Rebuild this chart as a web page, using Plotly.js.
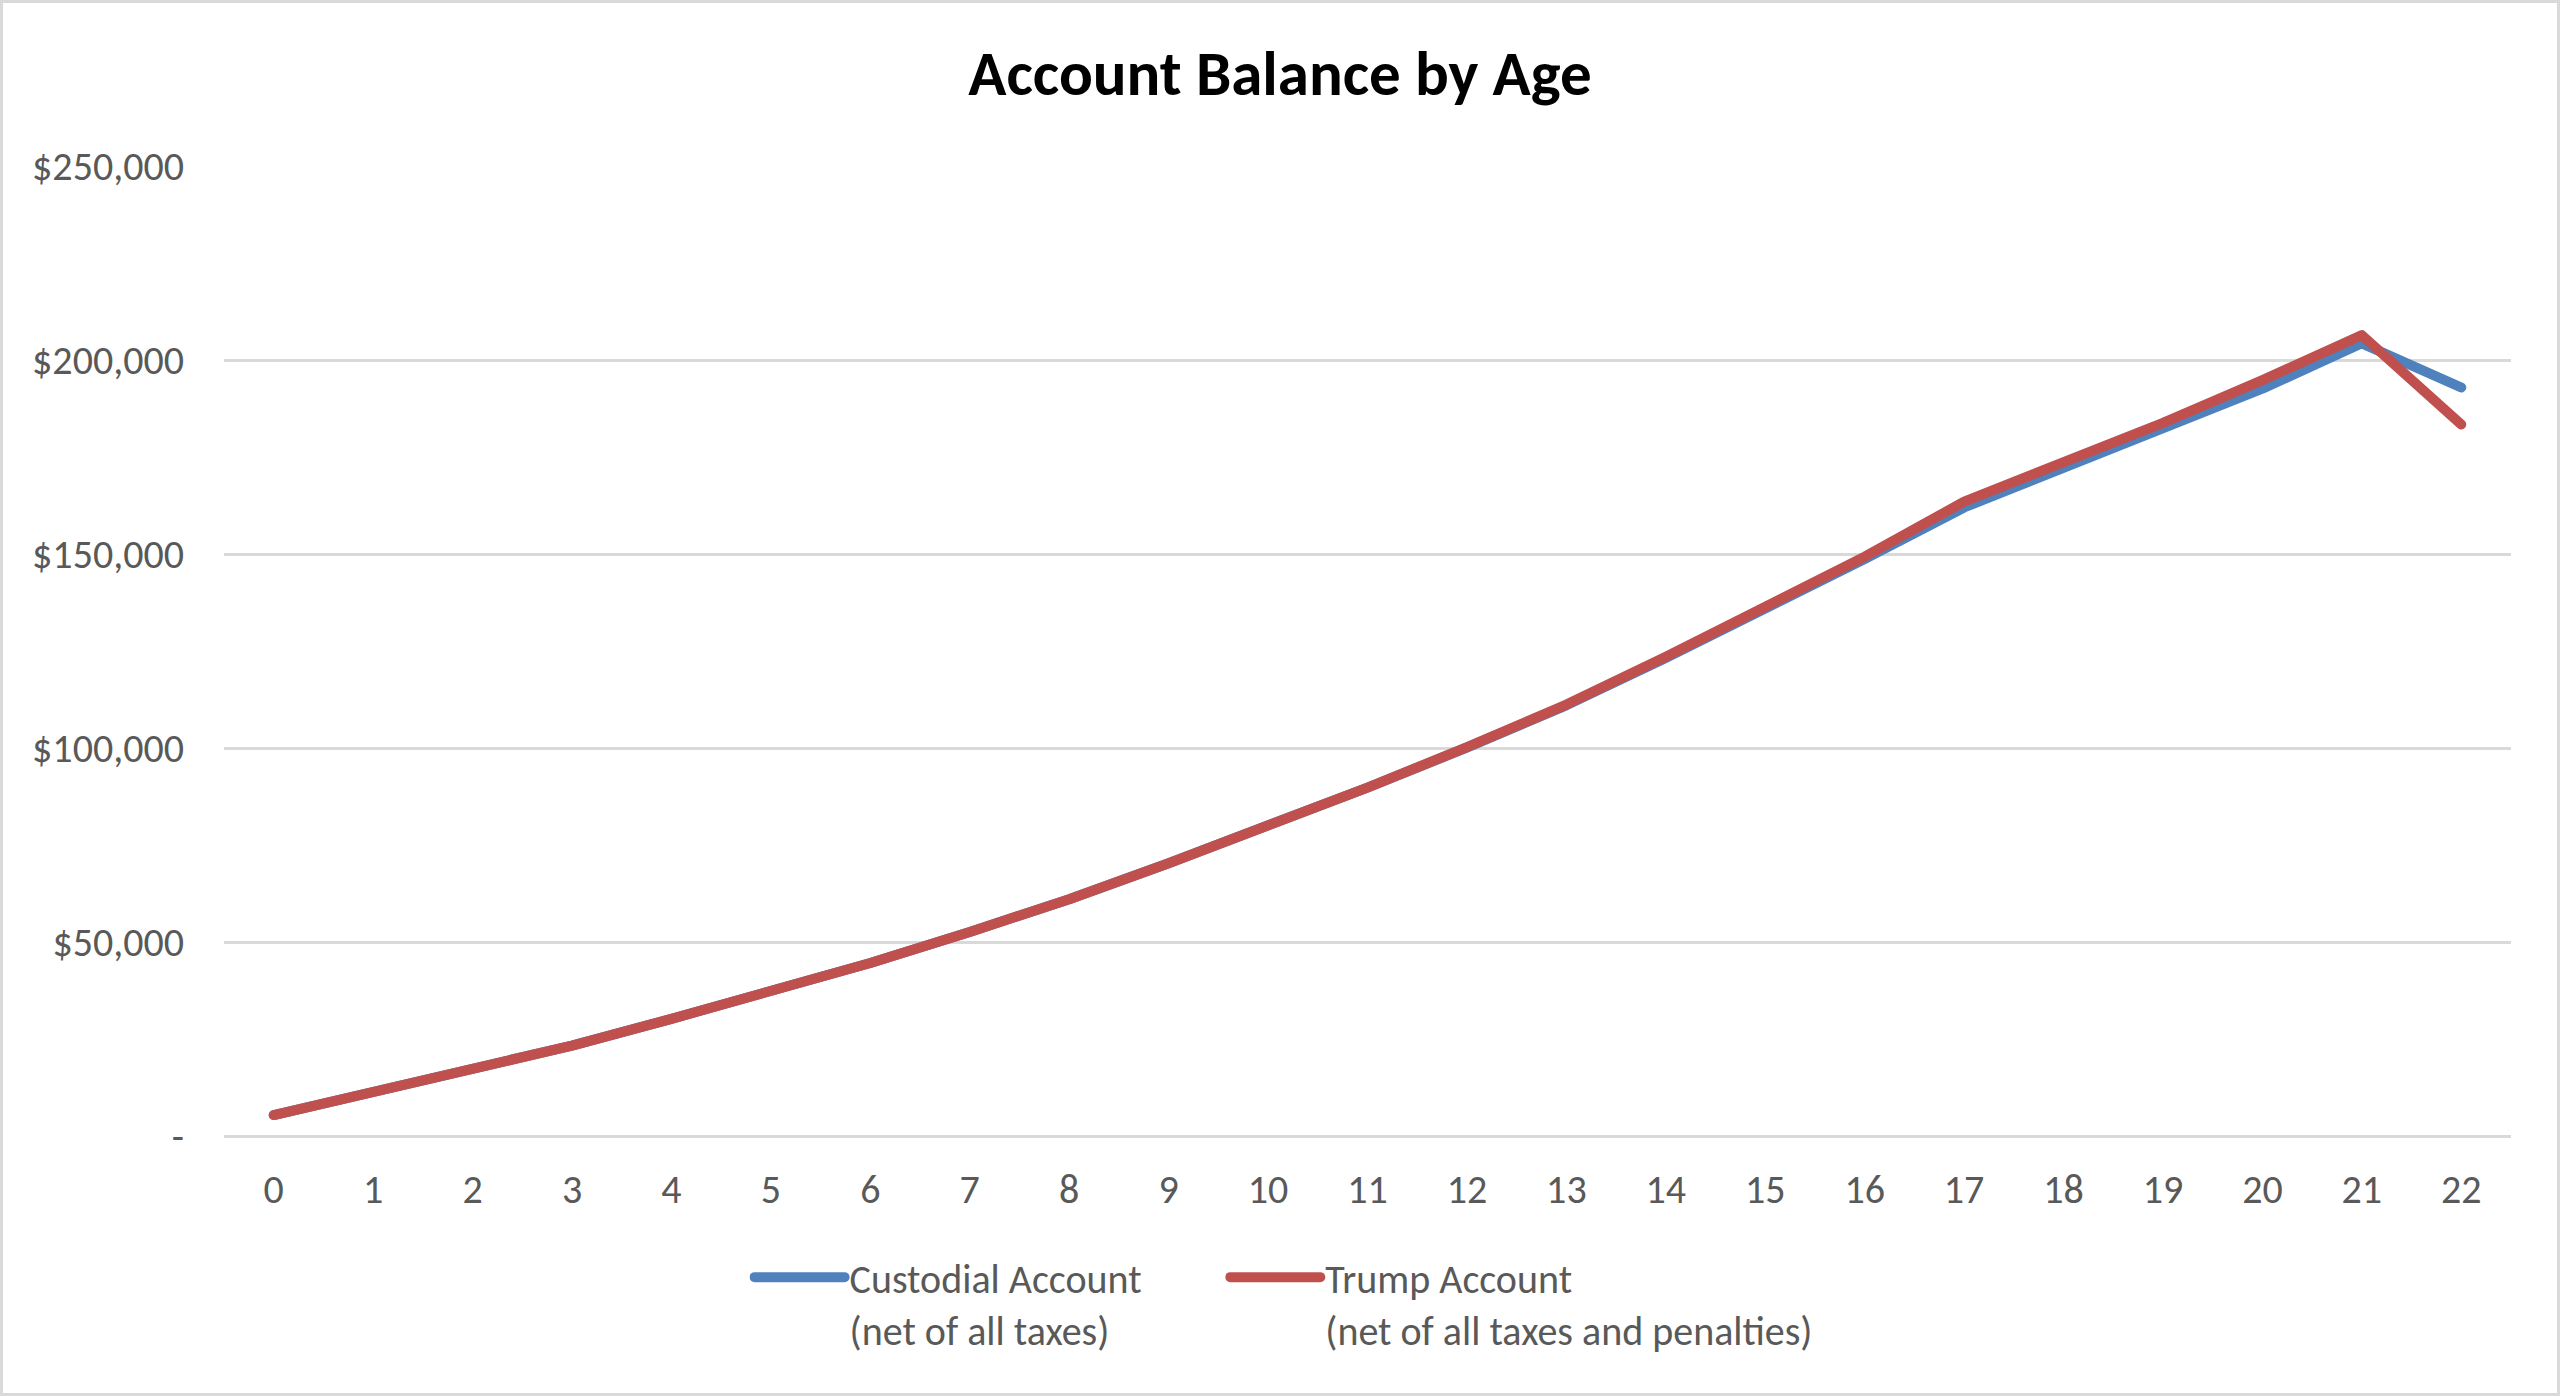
<!DOCTYPE html>
<html>
<head>
<meta charset="utf-8">
<script src="https://cdn.plot.ly/plotly-3.0.1.min.js"></script>
<style>
  body { margin: 0; background: #ffffff; }
  #frame { width: 2560px; height: 1396px; box-sizing: border-box; border: 3px solid #d9d9d9; }
  #chart { width: 2554px; height: 1390px; }
  path.js-line { stroke-linecap: round; stroke-linejoin: round; }
</style>
</head>
<body>
<div id="frame"><div id="chart"></div></div>
<script>
// ages on the x axis
var ages = [0, 1, 2, 3, 4, 5, 6, 7, 8, 9, 10, 11, 12, 13, 14, 15, 16, 17, 18, 19, 20, 21, 22];

// balances
var custodialBalance = [5400, 11200, 17100, 23300, 30200, 37200, 44600, 52600, 61000, 70300,
    80000, 89800, 100100, 111000, 123200, 135600, 148700, 162000, 172300, 182000,
    192600, 204300, 192900];
var trumpBalance = [5400, 11200, 17100, 23300, 30200, 37200, 44600, 52600, 61000, 70300,
    80000, 89800, 100200, 111200, 123500, 136100, 149300, 163500, 173800, 183800,
    194800, 206400, 183400];

var custodialName = "Custodial Account<br>(net of all taxes)";
var trumpName = "Trump Account<br>(net of all taxes and penalties)";

var yTickVals = [0, 50000, 100000, 150000, 200000, 250000];
var yTickText = ["-", "$50,000", "$100,000", "$150,000", "$200,000", "$250,000"];

var fontFamily = "Calibri, Carlito, Lato, sans-serif";
var textSize = 40;

var custodial = {
    x: ages,
    y: custodialBalance,
    name: custodialName,
    type: 'scatter',
    mode: 'lines',
    line: {color: '#4f81bd', width: 10},
    legend: 'legend'
};

var trump = {
    x: ages,
    y: trumpBalance,
    name: trumpName,
    type: 'scatter',
    mode: 'lines',
    line: {color: '#c0504d', width: 10},
    legend: 'legend2'
};

// one legend per series, so each entry can sit where the original puts it
function legendAt(xpos){
    return {
        orientation: 'h',
        x: xpos,
        xanchor: 'left',
        y: -0.112,
        yanchor: 'top',
        valign: 'top',
        itemwidth: 90,
        font: {family: fontFamily, size: textSize, color: '#595959'},
        bgcolor: 'rgba(0,0,0,0)'
    };
}

var layout = {
    width: 2554,
    height: 1390,
    paper_bgcolor: '#ffffff',
    plot_bgcolor: '#ffffff',
    font: {family: fontFamily, size: textSize, color: '#595959'},
    margin: {l: 221, r: 46, t: 163, b: 257, pad: 0},
    title: {
        text: "<b>Account Balance by Age</b>",
        font: {family: fontFamily, size: 63, color: '#000000'},
        xref: 'container',
        x: 0.5,
        xanchor: 'center',
        yref: 'container',
        y: 0.95,
        yanchor: 'middle'
    },
    xaxis: {
        range: [-0.5, 22.5],
        tickvals: ages,
        showgrid: false,
        zeroline: false,
        showline: false,
        ticks: 'outside',
        ticklen: 18,
        tickcolor: 'rgba(0,0,0,0)',
        tickfont: {family: fontFamily, size: textSize, color: '#595959'},
        fixedrange: true
    },
    yaxis: {
        range: [0, 250000],
        tickvals: yTickVals,
        ticktext: yTickText,
        showgrid: true,
        gridcolor: '#d9d9d9',
        gridwidth: 3,
        zeroline: true,
        zerolinecolor: '#d9d9d9',
        zerolinewidth: 3,
        showline: false,
        ticks: 'outside',
        ticklen: 31,
        tickcolor: 'rgba(0,0,0,0)',
        tickfont: {family: fontFamily, size: textSize, color: '#595959'},
        fixedrange: true
    },
    showlegend: true,
    legend: legendAt(0.2298),
    legend2: legendAt(0.4378)
};

Plotly.newPlot('chart', [custodial, trump], layout, {displayModeBar: false});
</script>
</body>
</html>
